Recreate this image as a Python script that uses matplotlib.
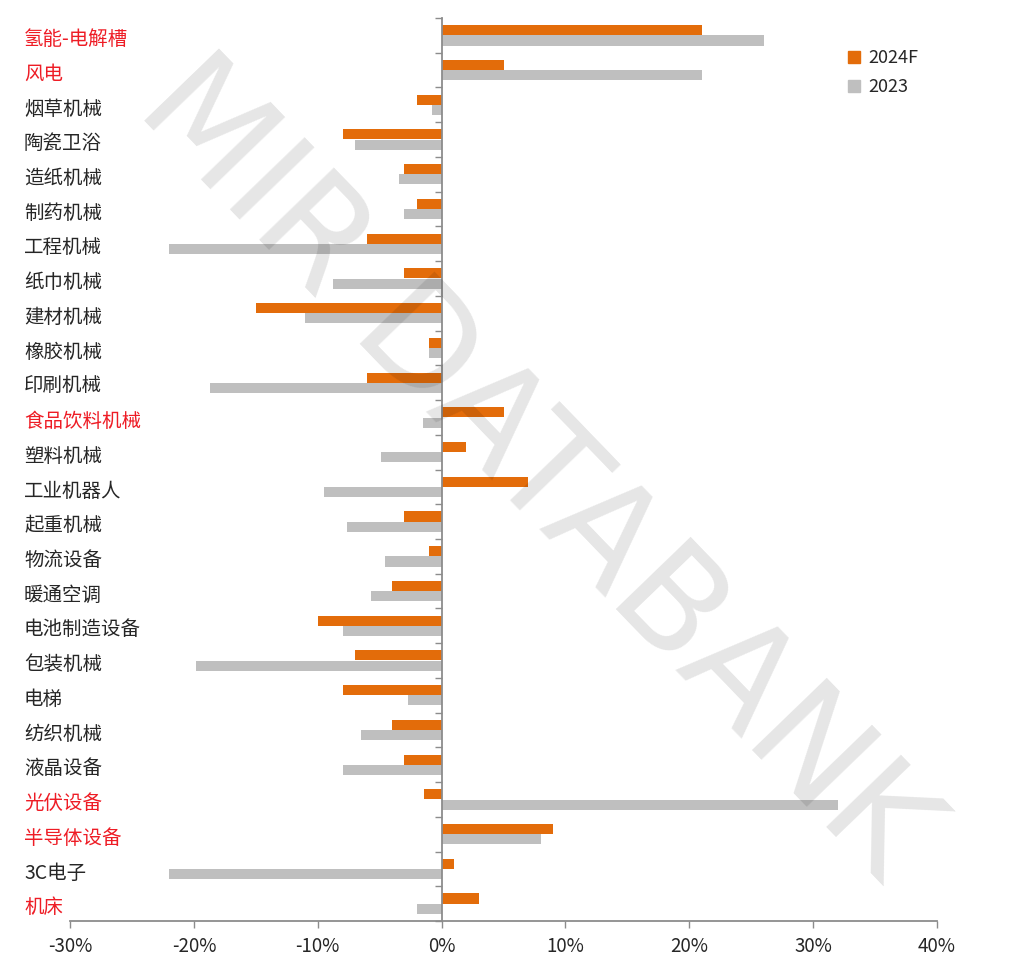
import matplotlib
matplotlib.use("Agg")
import matplotlib.pyplot as plt
import matplotlib.transforms as mtransforms
from matplotlib.patches import Patch
from matplotlib.ticker import FuncFormatter, FixedLocator

plt.rcParams['font.family'] = ['Noto Sans CJK SC', 'DejaVu Sans']
plt.rcParams['axes.unicode_minus'] = False

# categories, top to bottom
categories = ["氢能-电解槽", "风电", "烟草机械", "陶瓷卫浴", "造纸机械", "制药机械",
              "工程机械", "纸巾机械", "建材机械", "橡胶机械", "印刷机械", "食品饮料机械",
              "塑料机械", "工业机器人", "起重机械", "物流设备", "暖通空调", "电池制造设备",
              "包装机械", "电梯", "纺织机械", "液晶设备", "光伏设备", "半导体设备",
              "3C电子", "机床"]
highlight = ["氢能-电解槽", "风电", "食品饮料机械", "光伏设备", "半导体设备", "机床"]

# growth rates, %
growth_2024f = [21, 5, -2, -8, -3, -2, -6, -3, -15, -1, -6, 5, 2, 7, -3, -1, -4, -10,
                -7, -8, -4, -3, -1.4, 9, 1, 3]
growth_2023 = [26, 21, -0.8, -7, -3.4, -3, -22, -8.8, -11, -1, -18.7, -1.5, -4.9, -9.5,
               -7.6, -4.6, -5.7, -8, -19.8, -2.7, -6.5, -8, 32, 8, -22, -2]

ORANGE = "#E36C0A"
GREY = "#BFBFBF"
RED = "#EE1C25"
DARK = "#262626"
AXIS = "#8C8C8C"

fig = plt.figure(figsize=(10.33, 9.59), dpi=100)
ax = fig.add_axes([0.0678, 0.0396, 0.8393, 0.9416])

pos = list(range(len(categories)))
ax.barh([p - 0.148 for p in pos], growth_2024f, height=0.29, color=ORANGE, label="2024F", zorder=2)
ax.barh([p + 0.148 for p in pos], growth_2023, height=0.29, color=GREY, label="2023", zorder=2)

ax.set_xlim(-30, 40)
ax.set_ylim(len(categories) - 0.5, -0.5)
ax.set_xticks(range(-30, 41, 10))
ax.xaxis.set_major_formatter(FuncFormatter(lambda v, _: f"{v:.0f}%"))
ax.tick_params(axis='x', length=5, width=1, color=AXIS, pad=6, labelsize=13.5, labelcolor=DARK)

ax.yaxis.set_major_locator(FixedLocator([i - 0.5 for i in range(len(categories) + 1)]))
ax.set_yticklabels([])
ax.tick_params(axis='y', length=5, width=1, color=AXIS, direction='out')

for side in ['top', 'right']:
    ax.spines[side].set_visible(False)
ax.spines['left'].set_position(('data', 0))
ax.spines['left'].set_color(AXIS)
ax.spines['left'].set_linewidth(1.3)
ax.spines['bottom'].set_color(AXIS)
ax.spines['bottom'].set_linewidth(1.3)
ax.spines['left'].set_zorder(3)

trans = mtransforms.blended_transform_factory(fig.transFigure, ax.transData)
for i, name in enumerate(categories):
    ax.text(24 / 1033, i + 0.12, name, transform=trans, ha='left', va='center',
            fontsize=14, color=RED if name in highlight else DARK)

handles = [Patch(color=ORANGE, label="2024F"), Patch(color=GREY, label="2023")]
fig.legend(handles=handles, loc='upper left', bbox_to_anchor=(832 / 1033, 1 - 33 / 959),
           frameon=False, fontsize=13, handlelength=0.65, handleheight=0.65,
           handletextpad=0.45, labelspacing=0.6, labelcolor=DARK)

# watermark
fig.text(0.518, 0.51, "MIR DATABANK", fontsize=103, color="black", alpha=0.1,
         rotation=-46, ha='center', va='center', family='DejaVu Sans',
         rotation_mode='anchor', zorder=10)

fig.savefig("out.png", dpi=100)
